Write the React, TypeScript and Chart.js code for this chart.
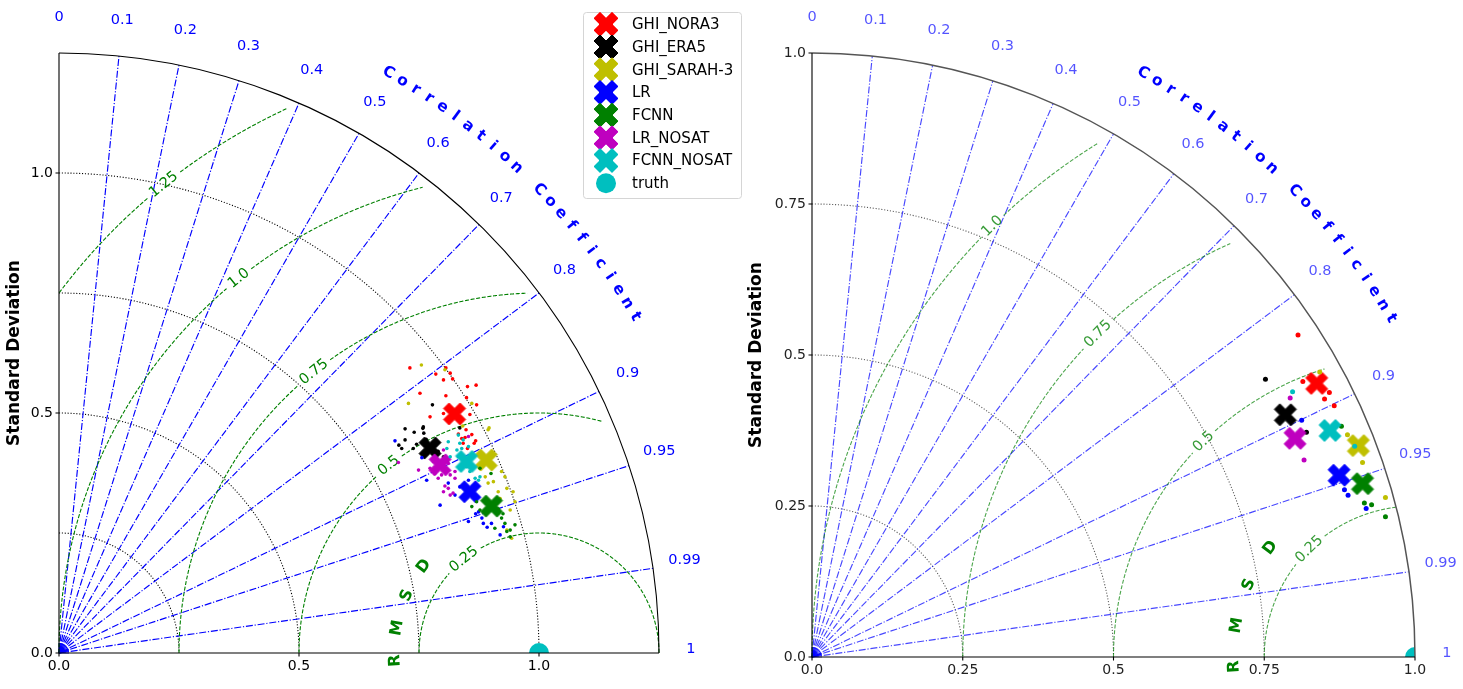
import React, { useEffect, useRef } from "react";
import { Chart, registerables } from "chart.js";

Chart.register(...registerables);

// ---------------- data ----------------
const SERIES_NAMES = ["GHI_NORA3", "GHI_ERA5", "GHI_SARAH-3", "LR", "FCNN", "LR_NOSAT", "FCNN_NOSAT"];
const SERIES_COLORS = ["#ff0000", "#000000", "#bfbf00", "#0000ff", "#008000", "#bf00bf", "#00bfbf"];
const TRUTH_NAME = "truth";
const TRUTH_COLOR = "#00bfbf";
const TRUTH_POINT = [1.0, 0.0];

const CORR_GRID = [0.1, 0.2, 0.3, 0.4, 0.5, 0.6, 0.7, 0.8, 0.9, 0.95, 0.99];
const CORR_TICKS = [0, 0.1, 0.2, 0.3, 0.4, 0.5, 0.6, 0.7, 0.8, 0.9, 0.95, 0.99, 1];
const CORR_TICK_LABELS = ["0", "0.1", "0.2", "0.3", "0.4", "0.5", "0.6", "0.7", "0.8", "0.9", "0.95", "0.99", "1"];

// left panel (normalised std, cartesian x = std*corr, y = std*sqrt(1-corr^2))
const LEFT_STD_TICKS = [0, 0.5, 1.0];
const LEFT_STD_TICK_LABELS = ["0.0", "0.5", "1.0"];
const LEFT_STD_ARCS = [0.25, 0.5, 0.75, 1.0];
const LEFT_RMSD_LEVELS = [0.25, 0.5, 0.75, 1.0, 1.25];
const LEFT_RMSD_LABELS = ["0.25", "0.5", "0.75", "1.0", "1.25"];

const LEFT_CENTRES = [
  [0.824, 0.498], [0.773, 0.427], [0.890, 0.402], [0.856, 0.336],
  [0.901, 0.306], [0.794, 0.392], [0.849, 0.399],
];
const LEFT_DOTS_NORA3 = [
  [0.731, 0.594], [0.806, 0.594], [0.785, 0.581], [0.815, 0.583], [0.801, 0.569], [0.820, 0.571],
  [0.851, 0.555], [0.752, 0.541], [0.806, 0.536], [0.849, 0.532], [0.773, 0.492], [0.801, 0.499],
  [0.869, 0.558], [0.870, 0.517], [0.856, 0.497], [0.832, 0.456], [0.846, 0.449], [0.848, 0.465],
  [0.868, 0.442], [0.851, 0.426], [0.839, 0.447], [0.860, 0.455], [0.865, 0.437], [0.842, 0.437],
];
const LEFT_DOTS_ERA5 = [
  [0.778, 0.517], [0.759, 0.471], [0.721, 0.467], [0.740, 0.460], [0.758, 0.468], [0.760, 0.458],
  [0.721, 0.444], [0.714, 0.426], [0.745, 0.435], [0.738, 0.426], [0.779, 0.437], [0.801, 0.409],
  [0.808, 0.399], [0.835, 0.469], [0.708, 0.433], [0.765, 0.445], [0.790, 0.420], [0.786, 0.405],
];
const LEFT_DOTS_SARAH3 = [
  [0.755, 0.600], [0.804, 0.590], [0.728, 0.520], [0.841, 0.473], [0.860, 0.520], [0.896, 0.469],
  [0.894, 0.465], [0.922, 0.378], [0.888, 0.367], [0.905, 0.357], [0.929, 0.367], [0.894, 0.354],
  [0.915, 0.336], [0.933, 0.343], [0.919, 0.322], [0.946, 0.336], [0.950, 0.315], [0.940, 0.298],
  [0.933, 0.256], [0.943, 0.239], [0.915, 0.291],
];
const LEFT_DOTS_LR = [
  [0.700, 0.442], [0.756, 0.407], [0.766, 0.360], [0.811, 0.354], [0.835, 0.385], [0.853, 0.360],
  [0.794, 0.308], [0.874, 0.294], [0.881, 0.281], [0.884, 0.270], [0.901, 0.270], [0.853, 0.274],
  [0.919, 0.246], [0.926, 0.263], [0.915, 0.319], [0.825, 0.329], [0.835, 0.346], [0.868, 0.290],
  [0.892, 0.262],
];
const LEFT_DOTS_FCNN = [
  [0.877, 0.385], [0.900, 0.374], [0.860, 0.305], [0.870, 0.315], [0.922, 0.281], [0.929, 0.270],
  [0.933, 0.253], [0.940, 0.256], [0.950, 0.267], [0.908, 0.260], [0.940, 0.242], [0.877, 0.298],
  [0.915, 0.300], [0.925, 0.290],
];
const LEFT_DOTS_LR_NOSAT = [
  [0.707, 0.397], [0.780, 0.399], [0.749, 0.381], [0.773, 0.385], [0.783, 0.374], [0.797, 0.371],
  [0.815, 0.371], [0.825, 0.378], [0.790, 0.364], [0.811, 0.395], [0.801, 0.423], [0.853, 0.451],
  [0.825, 0.364], [0.801, 0.336], [0.811, 0.343], [0.804, 0.348], [0.815, 0.329], [0.821, 0.333],
];
const LEFT_DOTS_FCNN_NOSAT = [
  [0.811, 0.440], [0.842, 0.444], [0.835, 0.437], [0.808, 0.426], [0.829, 0.423], [0.853, 0.430],
  [0.815, 0.409], [0.839, 0.426], [0.832, 0.409], [0.849, 0.388], [0.856, 0.378], [0.874, 0.360],
  [0.867, 0.364], [0.877, 0.367], [0.832, 0.454],
];

// right panel
const RIGHT_STD_TICKS = [0, 0.25, 0.5, 0.75, 1.0];
const RIGHT_STD_TICK_LABELS = ["0.0", "0.25", "0.5", "0.75", "1.0"];
const RIGHT_STD_ARCS = [0.25, 0.5, 0.75];
const RIGHT_RMSD_LEVELS = [0.25, 0.5, 0.75, 1.0];
const RIGHT_RMSD_LABELS = ["0.25", "0.5", "0.75", "1.0"];

const RIGHT_CENTRES = [
  [0.837, 0.453], [0.785, 0.401], [0.906, 0.350], [0.874, 0.301],
  [0.913, 0.287], [0.801, 0.362], [0.859, 0.375],
];
const RIGHT_DOTS_NORA3 = [[0.806, 0.533], [0.814, 0.456], [0.858, 0.438], [0.850, 0.427], [0.866, 0.416]];
const RIGHT_DOTS_ERA5 = [[0.752, 0.460], [0.820, 0.372]];
const RIGHT_DOTS_SARAH3 = [[0.842, 0.472], [0.888, 0.368], [0.913, 0.322], [0.923, 0.298], [0.951, 0.264]];
const RIGHT_DOTS_LR = [[0.812, 0.392], [0.883, 0.277], [0.889, 0.268], [0.919, 0.246]];
const RIGHT_DOTS_FCNN = [[0.878, 0.382], [0.916, 0.255], [0.928, 0.252], [0.951, 0.232]];
const RIGHT_DOTS_LR_NOSAT = [[0.793, 0.429], [0.816, 0.326]];
const RIGHT_DOTS_FCNN_NOSAT = [[0.797, 0.439], [0.900, 0.349]];

// ---------------- drawing helpers ----------------
const FONT = '"DejaVu Sans", sans-serif';

type PanelCfg = {
  rmax: number;
  stdTicks: number[];
  stdTickLabels: string[];
  stdArcs: number[];
  rmsdLevels: number[];
  rmsdLabels: string[];
  rmsdLabelAngle: number;
  rmsdReach: number;
  stdGridColor: string;
  corrLineColor: string;
  corrLabelColor: string;
  rmsdColor: string;
  rmsdLabelColor: string;
  outerColor: string;
  outerWidth: number;
  tickColor: string;
  ylabelOffset: number;
  legend: boolean;
};

function makeXMarker(color: string, size: number): HTMLCanvasElement {
  const c = document.createElement("canvas");
  const pad = 2;
  c.width = c.height = Math.ceil(size + pad * 2);
  const ctx = c.getContext("2d")!;
  const v = [[-1, -2], [0, -1], [1, -2], [2, -1], [1, 0], [2, 1], [1, 2], [0, 1], [-1, 2], [-2, 1], [-1, 0], [-2, -1]];
  const s = size / 4;
  ctx.translate(c.width / 2, c.height / 2);
  ctx.beginPath();
  v.forEach(([a, b], i) => (i ? ctx.lineTo(a * s, b * s) : ctx.moveTo(a * s, b * s)));
  ctx.closePath();
  ctx.fillStyle = color;
  ctx.fill();
  ctx.strokeStyle = color;
  ctx.lineWidth = 1;
  ctx.stroke();
  return c;
}

function geom(chart: any) {
  const xs = chart.scales.x;
  const ys = chart.scales.y;
  const ox = xs.getPixelForValue(0);
  const oy = ys.getPixelForValue(0);
  const kx = xs.getPixelForValue(1) - ox;
  const ky = oy - ys.getPixelForValue(1);
  const P = (x: number, y: number): [number, number] => [xs.getPixelForValue(x), ys.getPixelForValue(y)];
  return { ox, oy, kx, ky, P };
}

function rotText(ctx: CanvasRenderingContext2D, s: string, x: number, y: number, deg: number, font: string, color: string) {
  ctx.save();
  ctx.translate(x, y);
  ctx.rotate((deg * Math.PI) / 180);
  ctx.font = font;
  ctx.fillStyle = color;
  ctx.textAlign = "center";
  ctx.textBaseline = "middle";
  ctx.fillText(s, 0, 0);
  ctx.restore();
}

function drawGrid(chart: any, cfg: PanelCfg) {
  const ctx = chart.ctx as CanvasRenderingContext2D;
  const { ox, oy, kx, ky, P } = geom(chart);
  const rmax = cfg.rmax;
  ctx.save();
  ctx.lineCap = "butt";

  // standard deviation arcs
  ctx.strokeStyle = cfg.stdGridColor;
  ctx.lineWidth = 1.1;
  ctx.setLineDash([1.1, 1.8]);
  for (const s of cfg.stdArcs) {
    ctx.beginPath();
    ctx.ellipse(ox, oy, s * kx, s * ky, 0, -Math.PI / 2, 0);
    ctx.stroke();
  }

  // correlation lines
  ctx.strokeStyle = cfg.corrLineColor;
  ctx.lineWidth = 1.15;
  ctx.setLineDash([7, 1.8, 1.2, 1.8]);
  for (const c of CORR_GRID) {
    const [x2, y2] = P(rmax * c, rmax * Math.sqrt(1 - c * c));
    ctx.beginPath();
    ctx.moveTo(ox, oy);
    ctx.lineTo(x2, y2);
    ctx.stroke();
  }
  // small fan at origin
  ctx.setLineDash([]);
  ctx.lineWidth = 0.8;
  const fan: number[] = [];
  for (let k = 0; k <= 20; k++) fan.push(k * 0.05);
  for (let k = 91; k <= 99; k++) fan.push(k / 100);
  for (const c of fan) {
    const t = Math.acos(c);
    ctx.beginPath();
    ctx.moveTo(ox, oy);
    ctx.lineTo(ox + 10 * Math.cos(t), oy - 10 * Math.sin(t));
    ctx.stroke();
  }

  // RMSD circles
  const phiL = (cfg.rmsdLabelAngle * Math.PI) / 180;
  ctx.font = `14.5px ${FONT}`;
  for (let i = 0; i < cfg.rmsdLevels.length; i++) {
    const r = cfg.rmsdLevels[i];
    const limit = r > 0.3 ? cfg.rmsdReach * rmax : rmax + 1e-9;
    const w = ctx.measureText(cfg.rmsdLabels[i]).width;
    const gap = (w / 2 + 4) / (r * kx);
    const segs: [number, number][][] = [];
    let seg: [number, number][] = [];
    for (let phi = Math.PI; phi >= -0.0001; phi -= 0.002) {
      const x = TRUTH_POINT[0] + r * Math.cos(phi);
      const y = r * Math.sin(phi);
      const rr = Math.sqrt(x * x + y * y);
      const inside = x >= -1e-9 && y >= -1e-9 && rr <= limit && Math.abs(phi - phiL) > gap;
      if (inside) seg.push(P(x, Math.max(0, y)));
      else if (seg.length) {
        segs.push(seg);
        seg = [];
      }
    }
    if (seg.length) segs.push(seg);
    ctx.strokeStyle = cfg.rmsdColor;
    ctx.lineWidth = 1.1;
    ctx.setLineDash([4, 1.7]);
    for (const sg of segs) {
      ctx.beginPath();
      sg.forEach(([a, b], j) => (j ? ctx.lineTo(a, b) : ctx.moveTo(a, b)));
      ctx.stroke();
    }
    const [lx, ly] = P(TRUTH_POINT[0] + r * Math.cos(phiL), r * Math.sin(phiL));
    rotText(ctx, cfg.rmsdLabels[i], lx, ly, 90 - cfg.rmsdLabelAngle, `14.5px ${FONT}`, cfg.rmsdLabelColor);
  }
  ctx.setLineDash([]);

  // RMSD title letters around reference point
  const rl = ["R", "M", "S", "D"];
  const ra = [183, 170, 156.5, 143];
  for (let i = 0; i < rl.length; i++) {
    const a = (ra[i] * Math.PI) / 180;
    const [lx, ly] = P(TRUTH_POINT[0] + 0.3 * Math.cos(a), 0.3 * Math.sin(a));
    rotText(ctx, rl[i], lx, ly, 90 - ra[i], `bold 16px ${FONT}`, "#008000");
  }

  // correlation tick labels
  for (let i = 0; i < CORR_TICKS.length; i++) {
    const c = CORR_TICKS[i];
    const [lx, ly] = P(1.053 * rmax * c, 1.053 * rmax * Math.sqrt(Math.max(0, 1 - c * c)));
    rotText(ctx, CORR_TICK_LABELS[i], lx, ly - 4, 0, `14.5px ${FONT}`, cfg.corrLabelColor);
  }

  // Correlation Coefficient title
  const title = "Correlation Coefficient";
  for (let i = 0; i < title.length; i++) {
    if (title[i] === " ") continue;
    const deg = 60.4 - i * 1.37;
    const a = (deg * Math.PI) / 180;
    const [lx, ly] = P(1.112 * rmax * Math.cos(a), 1.112 * rmax * Math.sin(a));
    rotText(ctx, title[i], lx, ly, 90 - deg, `bold 15.5px ${FONT}`, "#0000ff");
  }
  ctx.restore();
}

function drawFrame(chart: any, cfg: PanelCfg) {
  const ctx = chart.ctx as CanvasRenderingContext2D;
  const { ox, oy, kx, ky, P } = geom(chart);
  const rmax = cfg.rmax;
  ctx.save();
  ctx.setLineDash([]);
  // outer arc
  ctx.strokeStyle = cfg.outerColor;
  ctx.lineWidth = cfg.outerWidth;
  ctx.beginPath();
  ctx.ellipse(ox, oy, rmax * kx, rmax * ky, 0, -Math.PI / 2, 0);
  ctx.stroke();
  // spines
  ctx.strokeStyle = "#000000";
  ctx.lineWidth = 1.1;
  ctx.beginPath();
  ctx.moveTo(ox, oy - rmax * ky);
  ctx.lineTo(ox, oy);
  ctx.lineTo(ox + rmax * kx, oy);
  ctx.stroke();
  // ticks
  ctx.font = `14px ${FONT}`;
  ctx.fillStyle = cfg.tickColor;
  for (let i = 0; i < cfg.stdTicks.length; i++) {
    const v = cfg.stdTicks[i];
    const [, py] = P(0, v);
    const [px] = P(v, 0);
    ctx.beginPath();
    ctx.moveTo(ox - 3.5, py);
    ctx.lineTo(ox, py);
    ctx.moveTo(px, oy);
    ctx.lineTo(px, oy + 3.5);
    ctx.stroke();
    ctx.textAlign = "right";
    ctx.textBaseline = "middle";
    ctx.fillText(cfg.stdTickLabels[i], ox - 6, py);
    ctx.textAlign = "center";
    ctx.textBaseline = "top";
    ctx.fillText(cfg.stdTickLabels[i], px, oy + 6);
  }
  // y label
  const ca = chart.chartArea;
  rotText(ctx, "Standard Deviation", ca.left - cfg.ylabelOffset, (ca.top + ca.bottom) / 2, -90, `bold 17px ${FONT}`, "#000000");
  ctx.restore();
}

function drawLegend(chart: any, markers: HTMLCanvasElement[]) {
  const ctx = chart.ctx as CanvasRenderingContext2D;
  ctx.save();
  const bx = 583.5, by = 12.5, bw = 158, bh = 186, rr = 3;
  ctx.beginPath();
  ctx.moveTo(bx + rr, by);
  ctx.arcTo(bx + bw, by, bx + bw, by + bh, rr);
  ctx.arcTo(bx + bw, by + bh, bx, by + bh, rr);
  ctx.arcTo(bx, by + bh, bx, by, rr);
  ctx.arcTo(bx, by, bx + bw, by, rr);
  ctx.closePath();
  ctx.fillStyle = "rgba(255,255,255,0.85)";
  ctx.fill();
  ctx.strokeStyle = "#d5d5d5";
  ctx.lineWidth = 1;
  ctx.stroke();
  ctx.font = `15px ${FONT}`;
  ctx.textAlign = "left";
  ctx.textBaseline = "middle";
  const names = [...SERIES_NAMES, TRUTH_NAME];
  for (let i = 0; i < names.length; i++) {
    const y = 24.3 + i * 22.7;
    if (i < markers.length) {
      const m = markers[i];
      ctx.drawImage(m, 606 - m.width / 2, y - m.height / 2);
    } else {
      ctx.beginPath();
      ctx.arc(606, y, 10, 0, Math.PI * 2);
      ctx.fillStyle = TRUTH_COLOR;
      ctx.fill();
    }
    ctx.fillStyle = "#000000";
    ctx.fillText(names[i], 632, y + 1);
  }
  ctx.restore();
}

function buildDatasets(centres: number[][], dots: number[][][], dotRadius: number, markers: HTMLCanvasElement[]) {
  const ds: any[] = [];
  ds.push({
    label: TRUTH_NAME,
    data: [{ x: TRUTH_POINT[0], y: TRUTH_POINT[1] }],
    pointRadius: 10,
    pointBackgroundColor: TRUTH_COLOR,
    pointBorderWidth: 0,
    clip: 0,
  });
  for (let i = 0; i < SERIES_NAMES.length; i++) {
    ds.push({
      label: SERIES_NAMES[i] + " samples",
      data: dots[i].map(([x, y]) => ({ x, y })),
      pointRadius: dotRadius,
      pointBackgroundColor: SERIES_COLORS[i],
      pointBorderWidth: 0,
      pointStyle: "circle",
    });
    ds.push({
      label: SERIES_NAMES[i],
      data: [{ x: centres[i][0], y: centres[i][1] }],
      pointStyle: markers[i],
      pointRadius: 11,
      pointBorderWidth: 0,
    });
  }
  return ds.reverse();
}

function buildChart(canvas: HTMLCanvasElement, cfg: PanelCfg, datasets: any[], padding: any, legendMarkers: HTMLCanvasElement[]) {
  const plugin = {
    id: "taylorPanel",
    beforeDatasetsDraw(chart: any) {
      drawGrid(chart, cfg);
    },
    afterDatasetsDraw(chart: any) {
      drawFrame(chart, cfg);
    },
    afterDraw(chart: any) {
      if (cfg.legend) drawLegend(chart, legendMarkers);
    },
  };
  return new Chart(canvas, {
    type: "scatter",
    data: { datasets },
    options: {
      animation: false,
      responsive: false,
      maintainAspectRatio: false,
      events: [],
      layout: { padding },
      plugins: { legend: { display: false }, tooltip: { enabled: false } },
      scales: {
        x: { type: "linear", min: 0, max: cfg.rmax, display: false },
        y: { type: "linear", min: 0, max: cfg.rmax, display: false },
      },
    },
    plugins: [plugin],
  } as any);
}

const LEFT_CFG: PanelCfg = {
  rmax: 1.25,
  stdTicks: LEFT_STD_TICKS,
  stdTickLabels: LEFT_STD_TICK_LABELS,
  stdArcs: LEFT_STD_ARCS,
  rmsdLevels: LEFT_RMSD_LEVELS,
  rmsdLabels: LEFT_RMSD_LABELS,
  rmsdLabelAngle: 128.7,
  rmsdReach: 0.985,
  stdGridColor: "#000000",
  corrLineColor: "#0000ff",
  corrLabelColor: "#0000ff",
  rmsdColor: "#008000",
  rmsdLabelColor: "#008000",
  outerColor: "#000000",
  outerWidth: 1.1,
  tickColor: "#000000",
  ylabelOffset: 44,
  legend: true,
};

const RIGHT_CFG: PanelCfg = {
  rmax: 1.0,
  stdTicks: RIGHT_STD_TICKS,
  stdTickLabels: RIGHT_STD_TICK_LABELS,
  stdArcs: RIGHT_STD_ARCS,
  rmsdLevels: RIGHT_RMSD_LEVELS,
  rmsdLabels: RIGHT_RMSD_LABELS,
  rmsdLabelAngle: 134.5,
  rmsdReach: 0.975,
  stdGridColor: "rgba(0,0,0,0.65)",
  corrLineColor: "rgba(0,0,255,0.72)",
  corrLabelColor: "rgba(0,0,255,0.68)",
  rmsdColor: "rgba(0,128,0,0.7)",
  rmsdLabelColor: "rgba(0,128,0,0.78)",
  outerColor: "#555555",
  outerWidth: 1.5,
  tickColor: "#222222",
  ylabelOffset: 55,
  legend: false,
};

export default function App() {
  const leftRef = useRef<HTMLCanvasElement>(null);
  const rightRef = useRef<HTMLCanvasElement>(null);

  useEffect(() => {
    const markers = SERIES_COLORS.map((c) => makeXMarker(c, 22));
    const legendMarkers = SERIES_COLORS.map((c) => makeXMarker(c, 24));
    const leftDots = [
      LEFT_DOTS_NORA3, LEFT_DOTS_ERA5, LEFT_DOTS_SARAH3, LEFT_DOTS_LR,
      LEFT_DOTS_FCNN, LEFT_DOTS_LR_NOSAT, LEFT_DOTS_FCNN_NOSAT,
    ];
    const rightDots = [
      RIGHT_DOTS_NORA3, RIGHT_DOTS_ERA5, RIGHT_DOTS_SARAH3, RIGHT_DOTS_LR,
      RIGHT_DOTS_FCNN, RIGHT_DOTS_LR_NOSAT, RIGHT_DOTS_FCNN_NOSAT,
    ];
    const c1 = buildChart(
      leftRef.current!,
      LEFT_CFG,
      buildDatasets(LEFT_CENTRES, leftDots, 1.8, markers),
      { left: 59, top: 53, right: 86, bottom: 36 },
      legendMarkers
    );
    const c2 = buildChart(
      rightRef.current!,
      RIGHT_CFG,
      buildDatasets(RIGHT_CENTRES, rightDots, 2.5, markers),
      { left: 67, top: 53, right: 48, bottom: 32 },
      legendMarkers
    );
    return () => {
      c1.destroy();
      c2.destroy();
    };
  }, []);

  return (
    <div style={{ position: "absolute", left: 0, top: 0, width: 1463, height: 689, background: "#ffffff", overflow: "hidden" }}>
      <canvas ref={leftRef} width={745} height={689} style={{ position: "absolute", left: 0, top: 0, width: 745, height: 689 }} />
      <canvas ref={rightRef} width={718} height={689} style={{ position: "absolute", left: 745, top: 0, width: 718, height: 689 }} />
    </div>
  );
}
